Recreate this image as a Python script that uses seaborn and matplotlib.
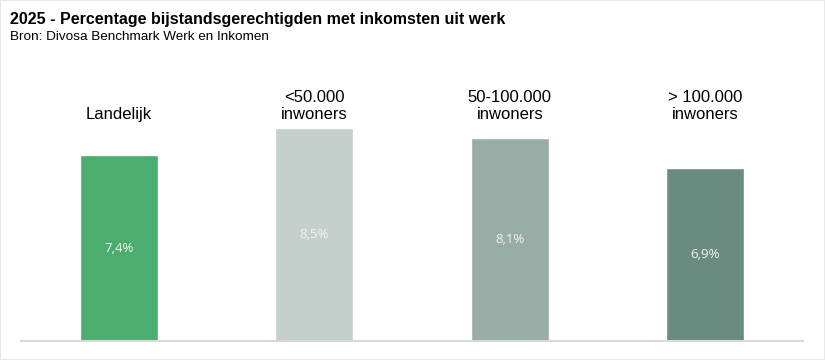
import matplotlib
matplotlib.use("Agg")
import matplotlib.pyplot as plt
import matplotlib.transforms as mtransforms
import seaborn as sns
import pandas as pd
from matplotlib.patches import Rectangle

categories = ["Landelijk", "<50.000\ninwoners", "50-100.000\ninwoners", "> 100.000\ninwoners"]
values = [7.4, 8.5, 8.1, 6.9]
colors = ["#4BAE6E", "#C5CFCB", "#97ADA5", "#6A8B80"]
title = "2025 - Percentage bijstandsgerechtigden met inkomsten uit werk"
subtitle = "Bron: Divosa Benchmark Werk en Inkomen"

df = pd.DataFrame({"cat": categories, "val": values})

sns.set_style("white")
plt.rcParams["font.family"] = ["Liberation Sans", "DejaVu Sans"]

fig = plt.figure(figsize=(8.25, 3.6), dpi=100)
ax = fig.add_axes([21 / 825, 19 / 360, 782 / 825, 275 / 360])

sns.barplot(data=df, x="cat", y="val", hue="cat", palette=colors, width=0.4,
            legend=False, ax=ax, saturation=1)

ax.set_ylim(0, 10.95)
ax.set_xlim(-0.5, len(categories) - 0.5)
ax.set_xlabel("")
ax.set_ylabel("")
ax.set_xticks([])
ax.set_yticks([])
for s in ["top", "left", "right"]:
    ax.spines[s].set_visible(False)
ax.spines["bottom"].set_color("#D9D9D9")
ax.spines["bottom"].set_linewidth(1.5)

for cont in ax.containers:
    labs = [f"{v:.1f}".replace(".", ",") + "%" for v in cont.datavalues]
    ax.bar_label(cont, labels=labs, label_type="center", color="#F2F2F2",
                 fontsize=9.5, family=["Open Sans", "DejaVu Sans"])

trans = mtransforms.blended_transform_factory(ax.transData, fig.transFigure)
for i, c in enumerate(categories):
    ax.text(i, 1 - 119 / 360, c, transform=trans,
            ha="center", va="baseline", fontsize=12, color="#000000", linespacing=1.15)

fig.text(10 / 825, 1 - 24 / 360, title, fontsize=11.5, fontweight="bold",
         ha="left", va="baseline", color="#000000")
fig.text(10 / 825, 1 - 40 / 360, subtitle, fontsize=9.7,
         ha="left", va="baseline", color="#000000")

fig.patches.append(Rectangle((0, 0), 1, 1, transform=fig.transFigure, fill=False,
                             edgecolor="#E8E8E8", linewidth=1.5, figure=fig))

fig.savefig("out.png", dpi=100)
